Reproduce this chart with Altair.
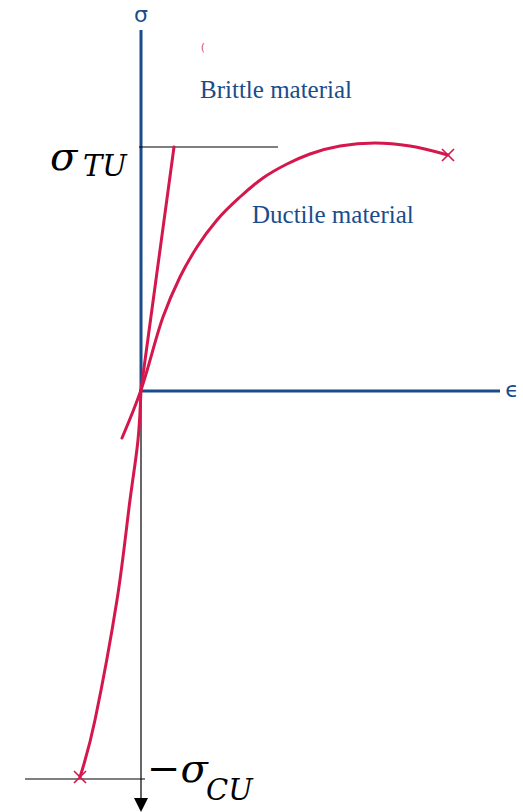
import altair as alt
import pandas as pd

# Stress-strain sketch: tension up/right, compression down/left (arbitrary units)
RED = "#d4174c"
BLUE = "#1a4c8c"

# Ductile curve (includes the short compressive tail below the origin)
ductile_eps = [-19, 0, 22, 39, 56, 76, 99, 122, 146, 169, 199, 234, 269, 307]
ductile_sig = [-48, 0, 73, 113, 143, 170, 193, 212, 226, 236, 244, 247, 244, 235]

# Brittle material: straight line up to the ultimate tensile stress
sigma_tu = 243
brittle_eps = [0, 33]
brittle_sig = [0, sigma_tu]

# Compression branch down to the ultimate compressive stress
comp_eps = [0, -3, -11, -24, -46, -61]
comp_sig = [0, -50, -110, -210, -330, -387]
sigma_cu = -389

# Fracture points
fract_eps = [307, -61]
fract_sig = [235, -387]

X_DOM = [-141, 382]
Y_DOM = [-422, 390]

xs = alt.Scale(domain=X_DOM, nice=False, zero=False)
ys = alt.Scale(domain=Y_DOM, nice=False, zero=False)

def X(field):
    return alt.X(field, type="quantitative", scale=xs, axis=None)

def Y(field):
    return alt.Y(field, type="quantitative", scale=ys, axis=None)

# Coordinate axes (blue) and guide lines (black)
axes_df = pd.DataFrame({
    "x": [0, -2], "y": [360, -1], "x2": [0, 359], "y2": [-2, -1],
})
guides_df = pd.DataFrame({
    "x": [0, -2, -116], "y": [5, sigma_tu, sigma_cu],
    "x2": [0, 137, 4], "y2": [-410, sigma_tu, sigma_cu],
})

axes = alt.Chart(axes_df).mark_rule(color=BLUE, strokeWidth=3).encode(
    x=X("x"), y=Y("y"), x2="x2", y2="y2")
guides = alt.Chart(guides_df).mark_rule(color="black", strokeWidth=1.2).encode(
    x=X("x"), y=Y("y"), x2="x2", y2="y2")

arrow = alt.Chart(pd.DataFrame({"x": [0], "y": [-415]})).mark_point(
    shape="M-1,-1L1,-1L0,1Z", size=196, filled=True, color="black", opacity=1
).encode(x=X("x"), y=Y("y"))

def curve_df(es, ss):
    return pd.DataFrame({"i": range(len(es)), "eps": es, "sig": ss})

line_style = dict(color=RED, strokeWidth=3, strokeCap="round")

ductile = alt.Chart(curve_df(ductile_eps, ductile_sig)).mark_line(
    interpolate="monotone", **line_style
).encode(x=X("eps"), y=Y("sig"), order="i:Q")

brittle = alt.Chart(curve_df(brittle_eps, brittle_sig)).mark_line(
    **line_style
).encode(x=X("eps"), y=Y("sig"), order="i:Q")

compression = alt.Chart(curve_df(comp_eps, comp_sig)).mark_line(
    interpolate="cardinal", **line_style
).encode(x=X("eps"), y=Y("sig"), order="i:Q")

fractures = alt.Chart(pd.DataFrame({"eps": fract_eps, "sig": fract_sig})).mark_point(
    shape="M-1,-1L1,1M-1,1L1,-1", size=144, color=RED, strokeWidth=1.6, opacity=1
).encode(x=X("eps"), y=Y("sig"))

# Labels
axis_lbl = alt.Chart(pd.DataFrame({
    "x": [0, 371], "y": [375, 0], "t": ["σ", "ϵ"]})).mark_text(
    font="DejaVu Sans", fontSize=22, color=BLUE, align="center", baseline="middle"
).encode(x=X("x"), y=Y("y"), text="t:N")

mat_lbl = alt.Chart(pd.DataFrame({
    "x": [59, 111], "y": [292, 167], "t": ["Brittle material", "Ductile material"]})).mark_text(
    font="Liberation Serif", fontSize=25, color=BLUE, align="left", baseline="alphabetic"
).encode(x=X("x"), y=Y("y"), text="t:N")

sig_big = alt.Chart(pd.DataFrame({
    "x": [-91, 6], "y": [220, -392], "t": ["σ", "−σ"]})).mark_text(
    font="DejaVu Serif", fontSize=40, fontStyle="italic", color="black",
    align="left", baseline="alphabetic"
).encode(x=X("x"), y=Y("y"), text="t:N")

sig_sub = alt.Chart(pd.DataFrame({
    "x": [-58, 65], "y": [214, -410], "t": ["TU", "CU"]})).mark_text(
    font="DejaVu Serif", fontSize=29, fontStyle="italic", color="black",
    align="left", baseline="alphabetic"
).encode(x=X("x"), y=Y("y"), text="t:N")

tick_mark = alt.Chart(pd.DataFrame({"x": [62], "y": [342], "t": ["("]})).mark_text(
    font="DejaVu Sans", fontSize=11, color=RED, align="center", baseline="middle", opacity=0.8
).encode(x=X("x"), y=Y("y"), text="t:N")

chart = alt.layer(
    axes, guides, arrow, ductile, brittle, compression, fractures,
    axis_lbl, mat_lbl, sig_big, sig_sub, tick_mark
).properties(
    width=523, height=812, padding=0, autosize=alt.AutoSizeParams(type="none")
).configure_view(stroke=None)

chart.save("out.html", embed_options={"renderer": "svg", "actions": False})
